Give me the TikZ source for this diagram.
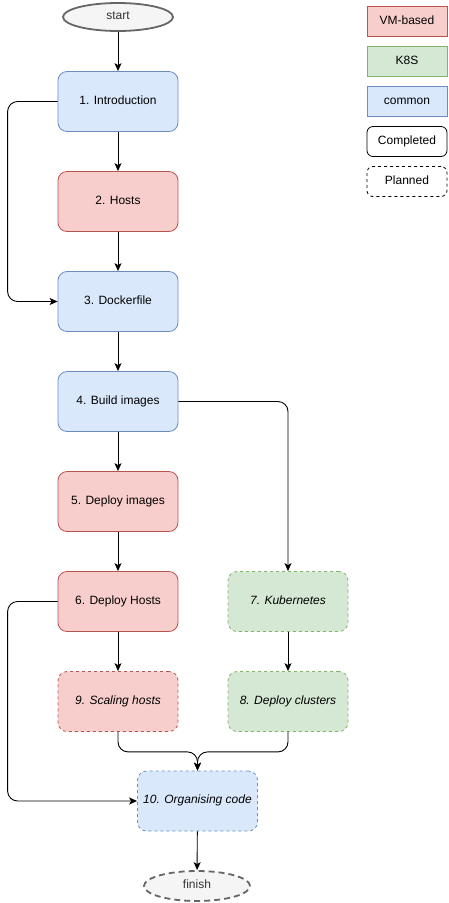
\documentclass[tikz,border=0pt]{standalone}
\usepackage{fontspec}
\setmainfont{Liberation Sans}
\usetikzlibrary{arrows.meta,shapes.geometric}
\definecolor{redfill}{HTML}{F8CECC}
\definecolor{redline}{HTML}{B85450}
\definecolor{greenfill}{HTML}{D5E8D4}
\definecolor{greenline}{HTML}{82B366}
\definecolor{bluefill}{HTML}{DAE8FC}
\definecolor{blueline}{HTML}{6C8EBF}
\definecolor{grayfill}{HTML}{F5F5F5}
\definecolor{grayline}{HTML}{666666}
\tikzset{
  txt/.style={font=\fontsize{12}{14}\selectfont, text height=9pt, text depth=4pt},
  box/.style={rectangle, rounded corners=9pt, minimum width=120pt, minimum height=60pt, inner sep=0pt, line width=0.8pt, txt},
  vmbox/.style={box, draw=redline, fill=redfill},
  k8sbox/.style={box, draw=greenline, fill=greenfill},
  commonbox/.style={box, draw=blueline, fill=bluefill},
  planbox/.style={dash pattern=on 3pt off 3pt, font=\fontsize{12}{14}\selectfont\itshape},
  legbox/.style={rectangle, minimum width=80pt, minimum height=30pt, inner sep=0pt, line width=0.8pt, txt},
  term/.style={ellipse, draw=grayline, fill=grayfill, line width=1.8pt, inner sep=0pt, txt, text=black!80},
  conn/.style={draw=black, line width=0.9pt, rounded corners=10pt, -{Stealth[length=8pt,width=7pt,inset=2pt]}},
}
\begin{document}
\begin{tikzpicture}[x=1pt,y=-1pt]
\useasboundingbox (0,0) rectangle (449,903);
% terminals
\node[term, minimum width=110pt, minimum height=28pt] (start) at (118,17) {start};
\node[term, dash pattern=on 6pt off 4pt, minimum width=106pt, minimum height=30pt] (finish) at (197,886) {finish};
% main column
\node[commonbox] (n1) at (118,101.5) {1. Introduction};
\node[vmbox] (n2) at (118,201.5) {2. Hosts};
\node[commonbox] (n3) at (118,301.5) {3. Dockerfile};
\node[commonbox] (n4) at (118,401.5) {4. Build images};
\node[vmbox] (n5) at (118,501.5) {5. Deploy images};
\node[vmbox] (n6) at (118,601.5) {6. Deploy Hosts};
\node[vmbox, planbox] (n9) at (118,701.5) {9. Scaling hosts};
\node[k8sbox, planbox] (n7) at (288,601.5) {7. Kubernetes};
\node[k8sbox, planbox] (n8) at (288,701.5) {8. Deploy clusters};
\node[commonbox, planbox] (n10) at (197.5,801) {10. Organising code};
% legend
\node[legbox, draw=redline, fill=redfill] (lvm) at (407,21.5) {VM-based};
\node[legbox, draw=greenline, fill=greenfill] (lk8s) at (407,61.5) {K8S};
\node[legbox, draw=blueline, fill=bluefill] (lcom) at (407,101.5) {common};
\node[legbox, draw=black, rounded corners=6pt] (lcomp) at (407,141.5) {Completed};
\node[legbox, draw=black, rounded corners=6pt, dash pattern=on 3pt off 3pt] (lplan) at (407,181.5) {Planned};
% connectors
\draw[conn] (start) -- (n1);
\draw[conn] (n1) -- (n2);
\draw[conn] (n2) -- (n3);
\draw[conn] (n1.west) -- ++(-50,0) |- (n3.west);
\draw[conn] (n3) -- (n4);
\draw[conn] (n4.east) -| (n7.north);
\draw[conn] (n4) -- (n5);
\draw[conn] (n5) -- (n6);
\draw[conn] (n6) -- (n9);
\draw[conn] (n7) -- (n8);
\draw[conn] (n6.west) -- ++(-50,0) |- (n10.west);
\draw[conn] (n9.south) -- ++(0,20) -| (n10.north);
\draw[conn] (n8.south) -- ++(0,20) -| (n10.north);
\draw[conn] (n10) -- (finish);
\end{tikzpicture}
\end{document}
